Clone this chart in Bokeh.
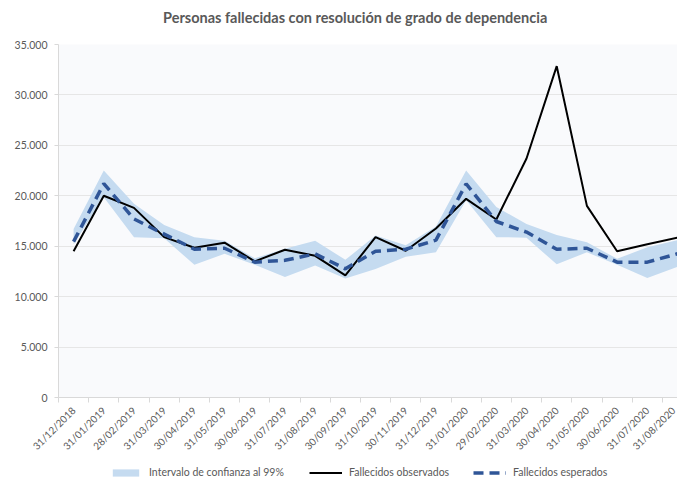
import numpy as np
from bokeh.plotting import figure
from bokeh.layouts import column
from bokeh.models import Range1d, FixedTicker, Legend, LegendItem, ColumnDataSource, Div
from bokeh.embed import file_html
from bokeh.resources import INLINE

titulo = "Personas fallecidas con resolución de grado de dependencia"
fechas = ["31/12/2018", "31/01/2019", "28/02/2019", "31/03/2019", "30/04/2019",
          "31/05/2019", "30/06/2019", "31/07/2019", "31/08/2019", "30/09/2019",
          "31/10/2019", "30/11/2019", "31/12/2019", "31/01/2020", "29/02/2020",
          "31/03/2020", "30/04/2020", "31/05/2020", "30/06/2020", "31/07/2020",
          "31/08/2020"]
observados = [14500, 20000, 18800, 15900, 14850, 15350, 13500, 14650, 14050, 12100,
              15900, 14550, 16750, 19700, 17650, 23700, 32850, 19000, 14500, 15200, 15850]
esperados = [15450, 21200, 17700, 16200, 14700, 14800, 13420, 13600, 14240, 12760,
             14500, 14700, 15600, 21180, 17450, 16400, 14700, 14800, 13420, 13420, 14250]
ic_superior = [16700, 22500, 19200, 17100, 15900, 15550, 13800, 14750, 15550, 13650,
               16050, 15100, 16950, 22500, 18900, 17200, 16100, 15400, 13750, 14900, 15600]
ic_inferior = [15200, 19850, 15900, 15800, 13150, 14250, 13150, 11950, 13100, 11800,
               12750, 13950, 14400, 19550, 15900, 15850, 13200, 14400, 13150, 11850, 12950]
y_ticks = [0, 5000, 10000, 15000, 20000, 25000, 30000, 35000]

x = list(range(len(fechas)))
src = ColumnDataSource(dict(x=x, obs=observados, esp=esperados,
                            sup=ic_superior, inf=ic_inferior))

GREY = "#595959"
FONT = "Lato"
BAND = "#C5DBF0"
DASH = "#2F5597"

title_div = Div(text=titulo, render_as_text=True, width=677, height=36,
                styles={"font-family": "Lato", "font-weight": "bold",
                        "font-size": "14.5px", "color": GREY,
                        "line-height": "36px", "text-indent": "163px",
                        "white-space": "nowrap", "margin": "0", "padding": "0"})

p = figure(width=677, height=424, output_backend="svg", toolbar_location=None,
           x_range=Range1d(-0.5, 20.0), y_range=Range1d(0, 35000),
           min_border_left=58, min_border_right=0, min_border_top=8,
           min_border_bottom=63)
p.background_fill_color = "#F9FAFC"
p.border_fill_color = "white"
p.outline_line_color = None

r_band = p.varea(x="x", y1="inf", y2="sup", source=src, fill_color=BAND)
r_obs = p.line("x", "obs", source=src, line_color="black", line_width=2)
r_esp = p.line("x", "esp", source=src, line_color=DASH, line_width=3.5,
               line_dash="10 6")

# x axis
p.xaxis.ticker = FixedTicker(ticks=x, minor_ticks=[i - 0.5 for i in range(len(fechas) + 1)])
p.xaxis.major_label_overrides = {i: f for i, f in enumerate(fechas)}
p.xaxis.major_label_orientation = np.pi / 4
p.xaxis.major_tick_line_color = None
p.xaxis.major_tick_out = 0
p.xaxis.major_tick_in = 0
p.xaxis.minor_tick_line_color = "#D9D9D9"
p.xaxis.minor_tick_out = 5
p.xaxis.minor_tick_in = 0
p.xaxis.axis_line_color = "#D9D9D9"
p.xaxis.major_label_text_font = FONT
p.xaxis.major_label_text_font_size = "10px"
p.xaxis.major_label_text_color = GREY
p.xaxis.major_label_standoff = 6
p.xgrid.visible = False

# y axis
p.yaxis.ticker = FixedTicker(ticks=y_ticks)
p.yaxis.major_label_overrides = {v: f"{v:,}".replace(",", ".") for v in y_ticks}
p.yaxis.minor_tick_line_color = None
p.yaxis.major_tick_out = 4
p.yaxis.major_tick_in = 0
p.yaxis.major_tick_line_color = "#D9D9D9"
p.yaxis.axis_line_color = "#D9D9D9"
p.yaxis.major_label_text_font = FONT
p.yaxis.major_label_text_font_size = "10.5px"
p.yaxis.major_label_text_color = GREY
p.yaxis.major_label_standoff = 7
p.ygrid.grid_line_color = "#E6E6E6"

# legend strip below the chart: same series, drawn outside this strip's view,
# only their legend entries are visible
pl = figure(width=677, height=18, output_backend="svg", toolbar_location=None,
            x_range=Range1d(0, 1), y_range=Range1d(0, 1), min_border=0,
            x_axis_location=None, y_axis_location=None)
pl.outline_line_color = None
pl.grid.visible = False
pl.background_fill_color = "white"
pl.border_fill_color = "white"
lg_band = pl.varea(x="x", y1="inf", y2="sup", source=src, fill_color=BAND)
lg_obs = pl.line("x", "obs", source=src, line_color="black", line_width=2)
lg_esp = pl.line("x", "esp", source=src, line_color=DASH, line_width=3.5,
                 line_dash="10 6")


def make_legend(label, renderer, loc):
    return Legend(items=[LegendItem(label=label, renderers=[renderer])],
                  location=loc, background_fill_alpha=0, border_line_color=None,
                  padding=0, margin=0, glyph_width=33, glyph_height=9,
                  label_height=12, label_standoff=7, label_text_font=FONT,
                  label_text_font_size="10.5px", label_text_color=GREY)


pl.add_layout(make_legend("Intervalo de confianza al 99%", lg_band, (51, 0)), "center")
pl.add_layout(make_legend("Fallecidos observados", lg_obs, (251, 0)), "center")
pl.add_layout(make_legend("Fallecidos esperados", lg_esp, (415, 0)), "center")

open("out.html", "w").write(file_html(column(title_div, p, pl, spacing=0), INLINE))
